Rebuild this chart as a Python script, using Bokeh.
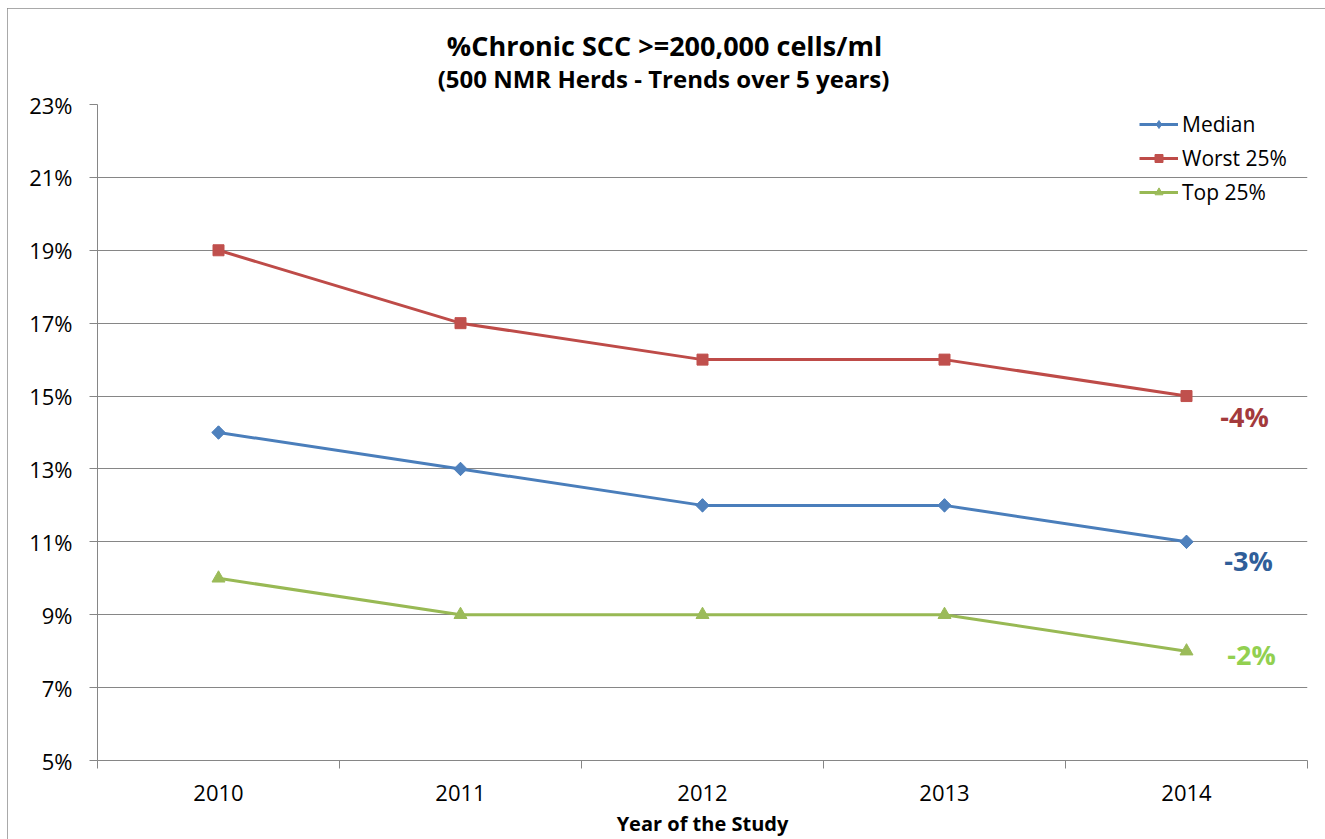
from bokeh.plotting import figure
from bokeh.models import (FixedTicker, PrintfTickFormatter, Label, Legend, LegendItem,
                          Range1d, BasicTickFormatter)
from bokeh.embed import file_html
from bokeh.resources import INLINE

# ---- data ----
years = [2010, 2011, 2012, 2013, 2014]
median = [14, 13, 12, 12, 11]
worst25 = [19, 17, 16, 16, 15]
top25 = [10, 9, 9, 9, 8]
series_names = ["Median", "Worst 25%", "Top 25%"]
changes = [-3, -4, -2]          # change 2010 -> 2014, per series (same order as names)
y_ticks = [5, 7, 9, 11, 13, 15, 17, 19, 21, 23]
title_text = "%Chronic SCC >=200,000 cells/ml"
subtitle_text = "(500 NMR Herds - Trends over 5 years)"
xlabel_text = "Year of the Study"

FONT = "Open Sans"
W, H = 1318, 831

p = figure(width=W, height=H, output_backend="svg", toolbar_location=None, title=None,
           x_range=Range1d(years[0] - 0.5, years[-1] + 0.5),
           y_range=Range1d(y_ticks[0], y_ticks[-1]),
           min_border_left=90, min_border_right=18, min_border_top=96, min_border_bottom=78)
p.outline_line_color = None
p.background_fill_color = "white"
p.border_fill_color = "white"
p.styles = {"margin-left": "7px", "margin-top": "8px",
            "outline": "1px solid #8c8c8c", "outline-offset": "-1px"}

grid_col = "#868686"
# y axis
p.yaxis.ticker = FixedTicker(ticks=y_ticks)
p.yaxis.formatter = PrintfTickFormatter(format="%d%%")
p.yaxis.axis_line_color = grid_col
p.yaxis.major_tick_line_color = grid_col
p.yaxis.major_tick_out = 8
p.yaxis.major_tick_in = 0
p.yaxis.minor_tick_line_color = None
p.yaxis.major_label_standoff = 17
p.yaxis.major_label_text_font = FONT
p.yaxis.major_label_text_font_size = "22px"
p.yaxis.major_label_text_color = "black"

# x axis: labels at years, tick marks at category boundaries
bounds = [y - 0.5 for y in years] + [years[-1] + 0.5]
p.xaxis.ticker = FixedTicker(ticks=years, minor_ticks=bounds)
p.xaxis.formatter = BasicTickFormatter(use_scientific=False)
p.xaxis.axis_line_color = grid_col
p.xaxis.major_tick_line_color = None
p.xaxis.major_tick_out = 0
p.xaxis.major_tick_in = 0
p.xaxis.minor_tick_line_color = grid_col
p.xaxis.minor_tick_out = 8
p.xaxis.minor_tick_in = 0
p.xaxis.major_label_standoff = 16
p.xaxis.major_label_text_font = FONT
p.xaxis.major_label_text_font_size = "22px"
p.xaxis.major_label_text_color = "black"
p.xaxis.axis_label = xlabel_text
p.xaxis.axis_label_standoff = 6
p.xaxis.axis_label_text_font = FONT
p.xaxis.axis_label_text_font_style = "bold"
p.xaxis.axis_label_text_font_size = "20px"
p.xaxis.axis_label_text_color = "black"

p.xgrid.grid_line_color = None
p.ygrid.ticker = FixedTicker(ticks=y_ticks)
p.ygrid.grid_line_color = grid_col
p.ygrid.grid_line_width = 1

# series
line_cols = ["#4A7EBB", "#BE4B48", "#98B954"]
mark_cols = ["#4F81BD", "#C0504D", "#9BBB59"]
markers = ["diamond", "square", "triangle"]
sizes = [13, 11, 13]
data = [median, worst25, top25]

items = []
for i, (name, vals, lc, mc, mk, sz) in enumerate(zip(series_names, data, line_cols, mark_cols,
                                                      markers, sizes)):
    r1 = p.line(years, vals, line_color=lc, line_width=3)
    r2 = p.scatter(years, vals, marker=mk, size=sz, fill_color=mc, line_color=mc)
    if i == 0:
        # broaden the diamond in the plot (a square turned by 45 degrees)
        p.scatter(years, vals, marker="square", angle=0.785398, size=9.5,
                  fill_color=mc, line_color=mc)
    items.append(LegendItem(label=name, renderers=[r1, r2]))

legend = Legend(items=items, location="top_right", margin=6, padding=18,
                background_fill_alpha=0, border_line_color=None,
                label_text_font=FONT, label_text_font_size="21px", label_text_color="black",
                glyph_width=39, glyph_height=20, label_standoff=4,
                label_width=119, spacing=6)
p.add_layout(legend, "center")

# change annotations
ann_cols = ["#2F5E99", "#A33A3C", "#92D050"]
ann_dx = [62, 58, 65]
ann_dy = [-19, -20, -3]
for vals, ch, col, dx, dy in zip(data, changes, ann_cols, ann_dx, ann_dy):
    p.add_layout(Label(x=years[-1], y=vals[-1], text=f"{ch}%", x_offset=dx, y_offset=dy,
                       text_align="center", text_baseline="middle",
                       text_font=FONT, text_font_style="bold", text_font_size="27px",
                       text_color=col))

# title and subtitle as labels in the top panel (canvas units, from the figure's top-left)
p.add_layout(Label(x=657, y=37, x_units="canvas", y_units="canvas", text=title_text,
                   text_align="center", text_baseline="middle", text_font=FONT,
                   text_font_style="bold", text_font_size="27px", text_color="black"), "above")
p.add_layout(Label(x=656, y=70, x_units="canvas", y_units="canvas", text=subtitle_text,
                   text_align="center", text_baseline="middle", text_font=FONT,
                   text_font_style="bold", text_font_size="24px", text_color="black"), "above")

open("out.html", "w").write(file_html(p, INLINE))
